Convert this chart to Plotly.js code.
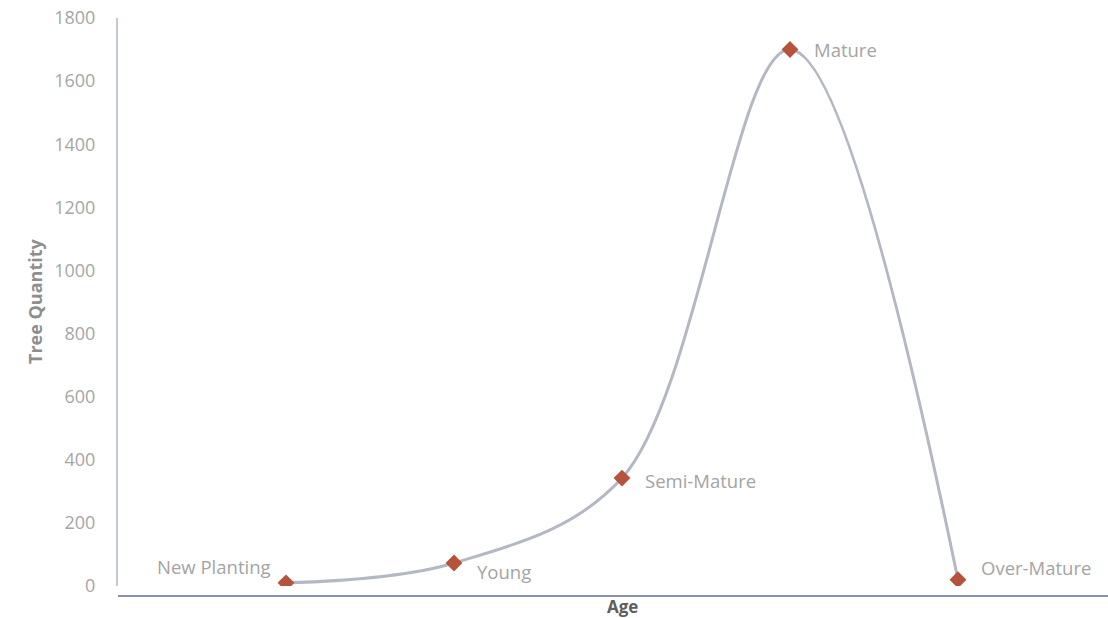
<!DOCTYPE html>
<html>
<head>
<meta charset="utf-8">
<script src="https://cdn.plot.ly/plotly-3.0.1.min.js"></script>
<style>html,body{margin:0;padding:0;background:#fff;}#chart{width:1108px;height:618px;}</style>
</head>
<body>
<div id="chart"></div>
<script>
// Data
const stages = ["New Planting", "Young", "Semi-Mature", "Mature", "Over-Mature"];
const quantities = [10, 73, 342, 1700, 20];
const yTicks = [0, 200, 400, 600, 800, 1000, 1200, 1400, 1600, 1800];

// Label styling (offsets in px)
const labelStyle = [
  {xanchor: "right", xshift: -13, yshift: 16},
  {xanchor: "left", xshift: 21, yshift: -9},
  {xanchor: "left", xshift: 21, yshift: -2},
  {xanchor: "left", xshift: 22, yshift: 0},
  {xanchor: "left", xshift: 21, yshift: 12}
];

const xs = stages.map((_, i) => i + 1);

const trace = {
  x: xs,
  y: quantities,
  type: "scatter",
  mode: "lines+markers",
  line: {shape: "spline", smoothing: 1, color: "#b4b8c3", width: 3},
  marker: {symbol: "diamond", size: 13, color: "#b5533c"},
  hoverinfo: "skip"
};

const annotations = stages.map((s, i) => Object.assign({
  x: xs[i], y: quantities[i], xref: "x", yref: "y",
  text: s, showarrow: false, yanchor: "middle",
  font: {family: "Open Sans, sans-serif", size: 18.5, color: "#a4a4a4"}
}, labelStyle[i]));

annotations.push({
  x: 622, y: 606, xref: "paper", yref: "paper", text: "<b>Age</b>",
  showarrow: false, xanchor: "center", yanchor: "middle",
  font: {family: "Open Sans, sans-serif", size: 17, color: "#5e5e5e"}
});
annotations.push({
  x: 35, y: 301, xref: "paper", yref: "paper", text: "<b>Tree Quantity</b>",
  showarrow: false, textangle: -90, xanchor: "center", yanchor: "middle",
  font: {family: "Open Sans, sans-serif", size: 18, color: "#8e8e8e"}
});

// convert pixel-based paper positions for the two axis titles
const W = 1108, H = 618, ml = 118, mr = 0, mt = 18, mb = 22;
const pw = W - ml - mr, ph = H - mt - mb;
annotations.slice(-2).forEach(a => {
  a.x = (a.x - ml) / pw;
  a.y = (H - mb - a.y) / ph;
});

const layout = {
  width: W, height: H,
  margin: {l: ml, r: mr, t: mt, b: mb},
  paper_bgcolor: "#ffffff", plot_bgcolor: "#ffffff",
  showlegend: false,
  xaxis: {
    range: [0, 5.893], anchor: "free", position: 0,
    showline: true, linecolor: "#8a90ae", linewidth: 2,
    showticklabels: false, ticks: "", showgrid: false, zeroline: false
  },
  yaxis: {
    range: [0, 1800], domain: [10 / 578, 1],
    tickvals: yTicks, ticktext: yTicks.map(String),
    showline: true, linecolor: "#c4c8d6", linewidth: 2,
    ticks: "", showgrid: false, zeroline: false,
    ticklabelstandoff: 17,
    tickfont: {family: "Open Sans, sans-serif", size: 18, color: "#a6a6a6"}
  },
  annotations: annotations
};

Plotly.newPlot("chart", [trace], layout, {displayModeBar: false, staticPlot: true});
</script>
</body>
</html>
